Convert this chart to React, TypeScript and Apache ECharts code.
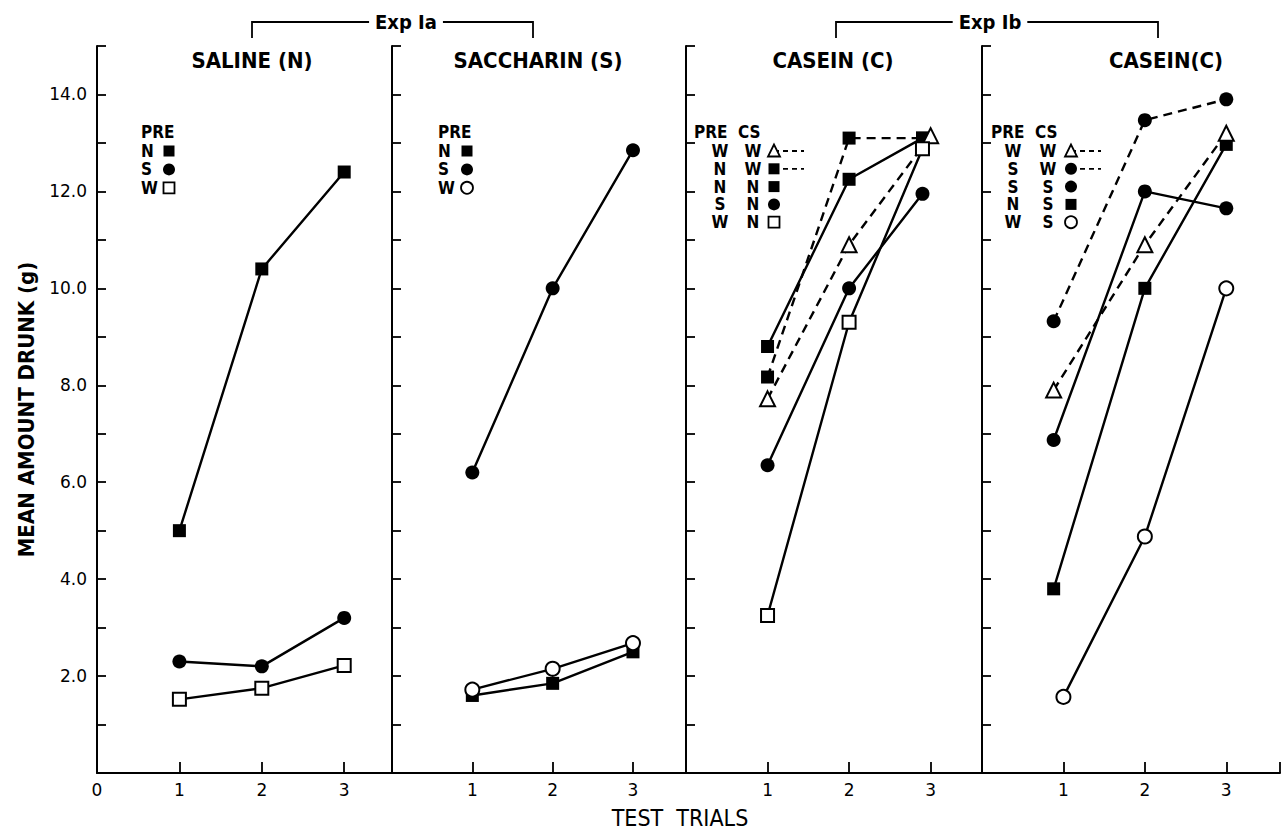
import React, { useEffect, useRef } from 'react';
import * as echarts from 'echarts';

// ---------- data ----------
const trialTicks = [1, 2, 3];
const yTickValues = [2, 4, 6, 8, 10, 12, 14];
const panelTitles = ['SALINE (N)', 'SACCHARIN (S)', 'CASEIN (C)', 'CASEIN(C)'];

// Panel 1: Saline (N)
const salineN = [[1, 5.0], [2, 10.4], [3, 12.4]];
const salineS = [[1, 2.3], [2, 2.2], [3, 3.2]];
const salineW = [[1, 1.52], [2, 1.75], [3, 2.22]];

// Panel 2: Saccharin (S)
const sacchS = [[1, 6.2], [2, 10.0], [3, 12.85]];
const sacchW = [[1, 1.72], [2, 2.15], [3, 2.68]];
const sacchN = [[1, 1.6], [2, 1.85], [3, 2.5]];

// Panel 3: Casein (C), Exp Ib
const cas1WW = [[1, 7.72], [2, 10.9], [3.0, 13.15]];
const cas1NW = [[1, 8.17], [2, 13.1], [2.9, 13.1]];
const cas1NN = [[1, 8.8], [2, 12.25], [2.9, 13.1]];
const cas1SN = [[1, 6.35], [2, 10.0], [2.9, 11.95]];
const cas1WN = [[1, 3.25], [2, 9.3], [2.9, 12.88]];

// Panel 4: Casein (C), Exp Ib
const cas2WW = [[0.88, 7.9], [2, 10.9], [3, 13.2]];
const cas2SW = [[0.88, 9.32], [2, 13.47], [3, 13.9]];
const cas2SS = [[0.88, 6.87], [2, 12.0], [3, 11.65]];
const cas2NS = [[0.88, 3.8], [2, 10.0], [3, 12.97]];
const cas2WS = [[1, 1.57], [2, 4.88], [3, 10.0]];

type Sym = 'rect' | 'circle' | 'triangle';
type SeriesDef = { name: string; data: number[][]; sym: Sym; open: boolean; dashed: boolean };

const panels: SeriesDef[][] = [
  [
    { name: 'N', data: salineN, sym: 'rect', open: false, dashed: false },
    { name: 'S', data: salineS, sym: 'circle', open: false, dashed: false },
    { name: 'W', data: salineW, sym: 'rect', open: true, dashed: false },
  ],
  [
    { name: 'S', data: sacchS, sym: 'circle', open: false, dashed: false },
    { name: 'W', data: sacchW, sym: 'circle', open: true, dashed: false },
    { name: 'N', data: sacchN, sym: 'rect', open: false, dashed: false },
  ],
  [
    { name: 'W W', data: cas1WW, sym: 'triangle', open: true, dashed: true },
    { name: 'N W', data: cas1NW, sym: 'rect', open: false, dashed: true },
    { name: 'N N', data: cas1NN, sym: 'rect', open: false, dashed: false },
    { name: 'S N', data: cas1SN, sym: 'circle', open: false, dashed: false },
    { name: 'W N', data: cas1WN, sym: 'rect', open: true, dashed: false },
  ],
  [
    { name: 'W W', data: cas2WW, sym: 'triangle', open: true, dashed: true },
    { name: 'S W', data: cas2SW, sym: 'circle', open: false, dashed: true },
    { name: 'S S', data: cas2SS, sym: 'circle', open: false, dashed: false },
    { name: 'N S', data: cas2NS, sym: 'rect', open: false, dashed: false },
    { name: 'W S', data: cas2WS, sym: 'circle', open: true, dashed: false },
  ],
];

// ---------- layout ----------
const GRID_TOP = 46;
const GRID_H = 727;
const gridsLayout = [
  { left: 97, width: 295, max: 3.58 },
  { left: 392, width: 294, max: 3.66 },
  { left: 686, width: 296, max: 3.63 },
  { left: 982, width: 298, max: 3.66 },
];
const legendLayout = [
  { x: 141, symX: 169 },
  { x: 438, symX: 467 },
  { x: 694, c1: 720, c2: 753, symX: 774 },
  { x: 991, c1: 1013, c2: 1048, symX: 1071 },
];
const titleX = [252, 538, 833, 1166];

const FONT_N = '"Liberation Sans Narrow", "DejaVu Sans Condensed", "Liberation Sans", sans-serif';
const FONT_W = '"DejaVu Sans", "Liberation Sans", sans-serif';

function symbolGraphic(sym: Sym, open: boolean, cx: number, cy: number): any {
  const style = { fill: open ? '#fff' : '#000', stroke: '#000', lineWidth: open ? 1.8 : 0 };
  if (sym === 'rect') return { type: 'rect', shape: { x: cx - 5.5, y: cy - 5.5, width: 11, height: 11 }, style, z: 10 };
  if (sym === 'circle') return { type: 'circle', shape: { cx, cy, r: 6 }, style, z: 10 };
  return { type: 'polygon', shape: { points: [[cx, cy - 6.5], [cx - 6, cy + 5.5], [cx + 6, cy + 5.5]] }, style, z: 10 };
}

function buildLegend(): any[] {
  const els: any[] = [];
  const rowY0 = 151;
  const rowStep = 17.8;
  panels.forEach((defs, p) => {
    const L: any = legendLayout[p];
    const twoCol = p >= 2;
    els.push({
      type: 'text', x: L.x, y: 132,
      style: { text: twoCol ? 'PRE  CS' : 'PRE', font: `bold 17px ${FONT_N}`, fill: '#000', textVerticalAlign: 'middle' },
    });
    const order = twoCol ? defs : ['N', 'S', 'W'].map((n) => defs.find((d) => d.name === n) as SeriesDef);
    order.forEach((d, i) => {
      const y = rowY0 + i * (twoCol ? rowStep : 18.4);
      if (twoCol) {
        const [a, b] = d.name.split(' ');
        els.push({ type: 'text', x: L.c1, y, style: { text: a, font: `bold 17px ${FONT_N}`, fill: '#000', textAlign: 'center', textVerticalAlign: 'middle' } });
        els.push({ type: 'text', x: L.c2, y, style: { text: b, font: `bold 17px ${FONT_N}`, fill: '#000', textAlign: 'center', textVerticalAlign: 'middle' } });
      } else {
        els.push({ type: 'text', x: L.x, y, style: { text: d.name, font: `bold 17px ${FONT_N}`, fill: '#000', textVerticalAlign: 'middle' } });
      }
      if (d.dashed) {
        els.push({ type: 'line', shape: { x1: L.symX, y1: y, x2: L.symX + 30, y2: y }, style: { stroke: '#000', lineWidth: 1.8, lineDash: [5, 4] }, z: 5 });
      }
      els.push(symbolGraphic(d.sym, d.open, L.symX, y));
    });
  });
  return els;
}

function bracket(x1: number, x2: number, label: string, cx: number): any[] {
  return [
    { type: 'polyline', shape: { points: [[x1, 38], [x1, 22], [x2, 22], [x2, 38]] }, style: { stroke: '#000', lineWidth: 1.8, fill: 'none' } },
    {
      type: 'text', x: cx, y: 22, z: 20,
      style: { text: label, font: `bold 20px ${FONT_N}`, fill: '#000', textAlign: 'center', textVerticalAlign: 'middle', backgroundColor: '#fff', padding: [0, 6] },
    },
  ];
}

export default function App() {
  const ref = useRef<HTMLDivElement>(null);
  useEffect(() => {
    if (!ref.current) return;
    const chart = echarts.init(ref.current, undefined, { renderer: 'svg' });

    const grid = gridsLayout.map((g) => ({ left: g.left, top: GRID_TOP, width: g.width, height: GRID_H, containLabel: false }));
    const xAxis = gridsLayout.map((g, i) => ({
      type: 'value', gridIndex: i, min: 0, max: g.max,
      splitLine: { show: false },
      axisLine: { show: true, lineStyle: { color: '#000', width: 2 } },
      axisTick: { show: true, inside: true, length: 11, lineStyle: { color: '#000', width: 1.8 }, customValues: i === 3 ? [...trialTicks, g.max] : trialTicks },
      axisLabel: {
        show: true, customValues: i === 0 ? [0, ...trialTicks] : trialTicks,
        color: '#000', fontFamily: FONT_W, fontSize: 17, margin: 8,
        formatter: (v: number) => String(Math.round(v)),
      },
    }));
    const yAxis = gridsLayout.map((g, i) => ({
      type: 'value', gridIndex: i, min: 0, max: 15, interval: 1,
      splitLine: { show: false },
      axisLine: { show: true, lineStyle: { color: '#000', width: 2 } },
      axisTick: { show: true, inside: true, length: 9, lineStyle: { color: '#000', width: 1.8 } },
      axisLabel: {
        show: i === 0, color: '#000', fontFamily: FONT_W, fontSize: 17, margin: 10,
        formatter: (v: number) => (yTickValues.includes(v) ? v.toFixed(1) : ''),
      },
      name: i === 0 ? 'MEAN AMOUNT DRUNK (g)' : '',
      nameLocation: 'middle', nameGap: 60, nameRotate: 90,
      nameTextStyle: { color: '#000', fontFamily: FONT_N, fontSize: 22, fontWeight: 'bold' },
    }));

    const series: any[] = [];
    panels.forEach((defs, p) => {
      defs.forEach((d) => {
        series.push({
          type: 'line', name: d.name, xAxisIndex: p, yAxisIndex: p, data: d.data,
          symbol: d.sym, symbolSize: d.sym === 'triangle' ? 15 : d.sym === 'rect' ? 13 : 14,
          showSymbol: true, silent: true,
          lineStyle: { color: '#000', width: 2.4, type: d.dashed ? [9, 6] : 'solid' },
          itemStyle: { color: d.open ? '#fff' : '#000', borderColor: '#000', borderWidth: d.open ? 2 : 0 },
          z: d.open ? 3 : 2,
        });
      });
    });

    const graphic: any[] = [
      ...panelTitles.map((t, i) => ({
        type: 'text', x: titleX[i], y: 60,
        style: { text: t, font: `bold 22px ${FONT_N}`, fill: '#000', textAlign: 'center', textVerticalAlign: 'middle' },
      })),
      ...bracket(252, 533, 'Exp Ia', 406),
      ...bracket(836, 1158, 'Exp Ib', 990),
      {
        type: 'text', x: 680, y: 818,
        style: { text: 'TEST  TRIALS', font: `23px ${FONT_N}`, fill: '#000', textAlign: 'center', textVerticalAlign: 'middle' },
      },
      ...buildLegend(),
    ];

    chart.setOption({
      animation: false,
      backgroundColor: '#fff',
      grid, xAxis, yAxis, series, graphic,
    });
    return () => chart.dispose();
  }, []);

  return <div ref={ref} style={{ position: 'fixed', left: 0, top: 0, width: 1286, height: 833, background: '#fff' }} />;
}
